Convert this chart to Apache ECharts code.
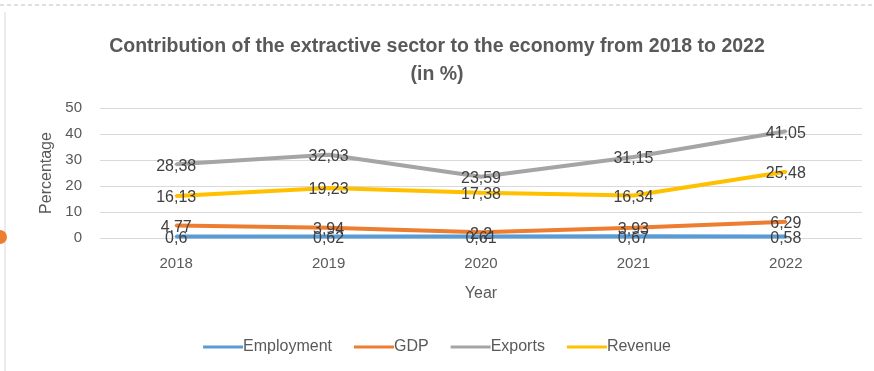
<!DOCTYPE html>
<html><head><meta charset="utf-8">
<script src="https://cdn.jsdelivr.net/npm/echarts@6/dist/echarts.min.js"></script>
<style>html,body{margin:0;padding:0;background:#fff}#c{width:874px;height:371px}</style>
</head><body><div id="c"></div>
<script>
const years = ['2018','2019','2020','2021','2022'];
const employment = [0.6, 0.62, 0.61, 0.67, 0.58];
const gdp = [4.77, 3.94, 2.2, 3.93, 6.29];
const exportsVals = [28.38, 32.03, 23.59, 31.15, 41.05];
const revenue = [16.13, 19.23, 17.38, 16.34, 25.48];
const seriesNames = ['Employment','GDP','Exports','Revenue'];
const colors = ['#5B9BD5','#ED7D31','#A5A5A5','#FFC000'];
const FONT = '"Liberation Sans",sans-serif';
const fmt = p => String(p.value).replace('.', ',');
function mk(name, data, color){
  return {name, type:'line', data, symbol:'circle', symbolSize:3, showSymbol:true, smooth:false,
    lineStyle:{width:4,color}, itemStyle:{color},
    label:{show:true, position:'inside', offset:[0,2], formatter:fmt, color:'#404040', fontSize:16, fontFamily:FONT}};
}
const chart = echarts.init(document.getElementById('c'));
chart.setOption({
  animation:false,
  title:{text:'Contribution of the extractive sector to the economy from 2018 to 2022\n(in %)', left:'center', top:28,
    textStyle:{fontFamily:FONT, fontSize:19.5, fontWeight:'bold', color:'#595959', lineHeight:28}},
  grid:{left:100, right:12, top:108, bottom:133},
  legend:{bottom:11, left:'center', itemWidth:40, itemHeight:3, itemGap:22,
    icon:'rect', textStyle:{fontFamily:FONT, fontSize:16, color:'#595959', padding:[0,0,0,-5]}},
  xAxis:{type:'category', data:years, boundaryGap:true, name:'Year', nameLocation:'middle', nameGap:48,
    nameTextStyle:{fontFamily:FONT, fontSize:16, color:'#595959'},
    axisLine:{show:false}, axisTick:{show:false},
    axisLabel:{fontFamily:FONT, fontSize:15, color:'#595959', margin:18}},
  yAxis:{type:'value', min:0, max:50, interval:10, name:'Percentage', nameLocation:'middle', nameGap:40,
    nameTextStyle:{fontFamily:FONT, fontSize:16, color:'#595959'},
    axisLine:{show:false}, axisTick:{show:false},
    axisLabel:{fontFamily:FONT, fontSize:15, color:'#595959', margin:18},
    splitLine:{lineStyle:{color:'#D9D9D9', width:1}}},
  series:[mk(seriesNames[0],employment,colors[0]), mk(seriesNames[1],gdp,colors[1]),
          mk(seriesNames[2],exportsVals,colors[2]), mk(seriesNames[3],revenue,colors[3])],
  graphic:[
    {type:'line', shape:{x1:0,y1:5,x2:874,y2:5}, style:{stroke:'#BFBFBF', lineDash:[4,3], lineWidth:1}},
    {type:'line', shape:{x1:5,y1:12,x2:5,y2:371}, style:{stroke:'#D9D9D9', lineWidth:1}},
    {type:'circle', shape:{cx:0,cy:237,r:7}, style:{fill:'#ED7D31'}}
  ]
});
</script></body></html>
